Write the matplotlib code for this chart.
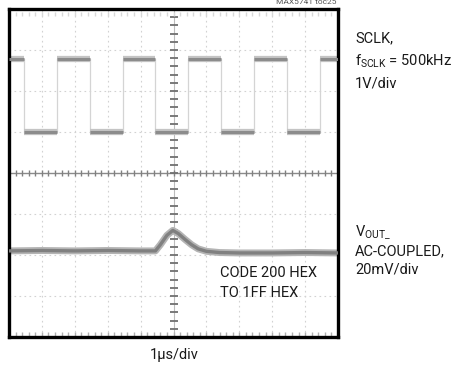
import matplotlib
matplotlib.use('Agg')
import matplotlib.pyplot as plt
import numpy as np

plt.rcParams['font.family'] = ['Roboto', 'DejaVu Sans']
plt.rcParams['mathtext.default'] = 'regular'

# scope screen: 10 horizontal divisions (1us/div), 8 vertical divisions
n_hdiv, n_vdiv = 10, 8

# SCLK trace (divisions): edge times and logic levels
sclk_fall = [0.45, 2.45, 4.45, 6.45, 8.45]
sclk_rise = [1.45, 3.45, 5.45, 7.45, 9.45]
sclk_high = 6.78
sclk_low = 5.0

# VOUT trace, AC-coupled (divisions)
vout_t = [0.0, 1.0, 2.0, 3.0, 4.0, 4.45, 4.6, 4.8, 4.98, 5.15, 5.35, 5.55, 5.75, 6.0,
          6.4, 7.0, 8.0, 9.0, 10.0]
vout_v = [2.10, 2.11, 2.10, 2.11, 2.10, 2.10, 2.25, 2.48, 2.60, 2.52, 2.38, 2.25, 2.15, 2.09,
          2.06, 2.05, 2.05, 2.06, 2.05]

W, H = 455, 372
fig = plt.figure(figsize=(W / 100, H / 100), dpi=100)
fig.patch.set_facecolor('white')

# screen area in pixels
x0, x1, y0, y1 = 9, 338, 9, 337
ax = fig.add_axes([x0 / W, 1 - y1 / H, (x1 - x0) / W, (y1 - y0) / H])
ax.set_xlim(0, n_hdiv)
ax.set_ylim(0, n_vdiv)
ax.set_xticks([])
ax.set_yticks([])
for s in ax.spines.values():
    s.set_linewidth(2.4)
    s.set_color('black')

# graticule
grid_kw = dict(color='#d2d2d2', lw=0.8, ls=(0, (1.5, 3)), zorder=1)
for i in range(1, n_hdiv):
    if i != n_hdiv // 2:
        ax.axvline(i, **grid_kw)
for j in range(1, n_vdiv):
    if j != n_vdiv // 2:
        ax.axhline(j, **grid_kw)
ax.axhline(n_vdiv / 2, color='#8a8a8a', lw=1.0, zorder=1)
ax.axvline(n_hdiv / 2, color='#bcbcbc', lw=0.8, zorder=1)
hmin = np.arange(0.2, n_hdiv, 0.2)
vmin = np.arange(0.2, n_vdiv, 0.2)
ax.plot(hmin, np.full_like(hmin, n_vdiv / 2), ls='none', marker='|', ms=5, mew=1.0,
        color='#808080', zorder=1)
ax.plot(np.full_like(vmin, n_hdiv / 2), vmin, ls='none', marker='_', ms=6, mew=1.3,
        color='#707070', zorder=1)
ax.plot(hmin, np.full_like(hmin, 0.08), ls='none', marker='|', ms=3, mew=1.0,
        color='#b0b0b0', zorder=1, clip_on=False)
ax.plot(hmin, np.full_like(hmin, n_vdiv - 0.12), ls='none', marker='|', ms=3, mew=1.0,
        color='#d8d8d8', zorder=1, clip_on=False)

# SCLK square wave
edges = sorted([(t, 'f') for t in sclk_fall] + [(t, 'r') for t in sclk_rise])
level = sclk_high
start = 0.0
for t, kind in edges:
    ax.plot([start, t], [level, level], color='#c4c4c4', lw=4.5, solid_capstyle='butt', zorder=2)
    ax.plot([start, t], [level, level], color='#8c8c8c', lw=2.2, solid_capstyle='butt', zorder=3)
    ax.plot([t, t], [sclk_low, sclk_high], color='#d4d4d4', lw=0.9, zorder=2)
    level = sclk_low if kind == 'f' else sclk_high
    start = t
ax.plot([start, n_hdiv], [level, level], color='#c4c4c4', lw=4.5, solid_capstyle='butt', zorder=2)
ax.plot([start, n_hdiv], [level, level], color='#8c8c8c', lw=2.2, solid_capstyle='butt', zorder=3)

# VOUT glitch
ax.plot(vout_t, vout_v, color='#b4b4b4', lw=5.0, zorder=2, solid_joinstyle='round')
ax.plot(vout_t, vout_v, color='#808080', lw=2.4, zorder=3, solid_joinstyle='round')

ax.text(0.64, 0.165, 'CODE 200 HEX\nTO 1FF HEX', transform=ax.transAxes, fontsize=10.5,
        linespacing=1.5, va='center', ha='left', color='#1a1a1a', zorder=4)


def ftext(px, py, s, **kw):
    fig.text(px / W, 1 - py / H, s, **kw)


lab = dict(fontsize=10.5, color='#1a1a1a', va='center', ha='left')
ftext(355, 38, 'SCLK,', **lab)
ftext(355, 61, r'f$_{SCLK}$ = 500kHz', **lab)
ftext(355, 84, '1V/div', **lab)
ftext(355, 232, r'V$_{OUT\_}$', **lab)
ftext(355, 251, 'AC-COUPLED,', **lab)
ftext(355, 270, '20mV/div', **lab)
ftext(174, 355, '1µs/div', fontsize=10.5, color='#1a1a1a', va='center', ha='center')
ftext(337, 2, 'MAX5741 toc25', fontsize=6, color='#555555', va='center', ha='right')

fig.savefig('out.png', dpi=100, facecolor='white')
